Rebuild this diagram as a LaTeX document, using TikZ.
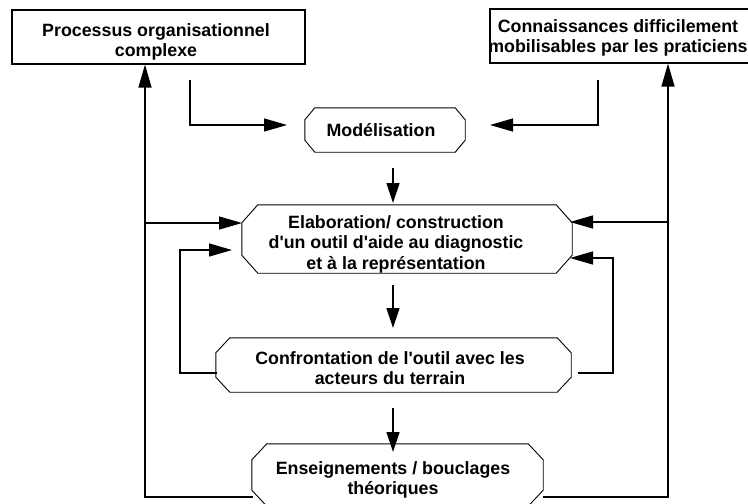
\documentclass[tikz,border=0pt]{standalone}
\usepackage{fontspec}
\newfontfamily\lblfont{Liberation Sans}
\usetikzlibrary{arrows.meta,calc}
\newcommand\octodraw[3]{\draw[octline] ([xshift=#2]#1.north west) -- ([xshift=-#2]#1.north east) -- ([yshift=-#3]#1.north east) -- ([yshift=#3]#1.south east) -- ([xshift=-#2]#1.south east) -- ([xshift=#2]#1.south west) -- ([yshift=#3]#1.south west) -- ([yshift=-#3]#1.north west) -- cycle;}
\begin{document}
\begin{tikzpicture}[x=1pt,y=-1pt,
  lab/.style={font=\lblfont\bfseries\fontsize{17.8}{20.5}\selectfont, align=center, inner sep=0pt},
  rbox/.style={draw, line width=1.2pt, inner sep=0pt},
  octshape/.style={inner sep=0pt},
  octline/.style={line width=0.9pt, line join=miter},
  conn/.style={line width=1.3pt},
  harr/.style={conn, -{Triangle[length=23pt,width=13pt]}},
  varr/.style={conn, -{Triangle[length=20pt,width=13pt]}},
]
\useasboundingbox (0,0) rectangle (748,504);
\clip (0,0) rectangle (748,504);
\fill[white] (0,0) rectangle (748,504);

% rectangles
\node[rbox, minimum width=293pt, minimum height=54pt] (pro) at (158.5,37) {};
\node[lab] (proT) at (156,42) {Processus organisationnel\\complexe};
\node[rbox, minimum width=262pt, minimum height=54pt] (con) at (621,36) {};
\node[lab] (conT) at (618,38) {Connaissances difficilement\\mobilisables par les praticiens};

% octagons
\node[octshape, minimum width=160pt, minimum height=44pt] (mod) at (385,130) {};
\octodraw{mod}{10pt}{12pt}
\node[lab] (modT) at (381,130) {Modélisation};

\node[octshape, minimum width=330pt, minimum height=68pt] (ela) at (407,239) {};
\octodraw{ela}{16pt}{18pt}
\node[lab] (elaT) at (396,244) {Elaboration/ construction\\d'un outil d'aide au diagnostic\\et à la représentation};

\node[octshape, minimum width=355pt, minimum height=54pt] (cnf) at (393.5,365) {};
\octodraw{cnf}{14pt}{15pt}
\node[lab] (cnfT) at (390,368) {Confrontation de l'outil avec les\\acteurs du terrain};

\node[octshape, minimum width=291pt, minimum height=62pt] (ens) at (397.5,475) {};
\octodraw{ens}{15pt}{16pt}
\node[lab] (ensT) at (393,480) {Enseignements / bouclages\\théoriques};

% connector coordinates
\coordinate (p1) at (190,80);
\coordinate (p1e) at (287,125);
\coordinate (c1) at (598,80);
\coordinate (c1e) at (490,125);
\coordinate (m1) at (393,168);
\coordinate (m1e) at (393,203);
\coordinate (e1) at (393,285);
\coordinate (e1e) at (393,328);
\coordinate (f1) at (393,408);
\coordinate (f1e) at (393,452);
\coordinate (L) at (145,497);
\coordinate (Lb) at (145,223);
\coordinate (Lbe) at (242,223);
\coordinate (R) at (668,497);
\coordinate (Rb) at (668,222);
\coordinate (Rbe) at (570,222);
\coordinate (ll1) at (217,373);
\coordinate (ll2) at (180,250);
\coordinate (ll2e) at (232,250);
\coordinate (rl1) at (578,373);
\coordinate (rl2) at (613,258);
\coordinate (rl2e) at (570,258);
\coordinate (ensL) at (253,497);
\coordinate (ensR) at (543,497);

\draw[harr] (p1) |- (p1e);
\draw[harr] (c1) |- (c1e);
\draw[varr] (m1) -- (m1e);
\draw[varr] (e1) -- (e1e);
\draw[varr] (f1) -- (f1e);
\draw[harr] (ensL) -- (L) -- (pro.south -| L);
\draw[harr] (Lb) -- (Lbe);
\draw[harr] (ensR) -- (R) -- (con.south -| R);
\draw[harr] (Rb) -- (Rbe);
\draw[harr] (ll1) -| (ll2) -- (ll2e);
\draw[harr] (rl1) -| (rl2) -- (rl2e);
\end{tikzpicture}
\end{document}
